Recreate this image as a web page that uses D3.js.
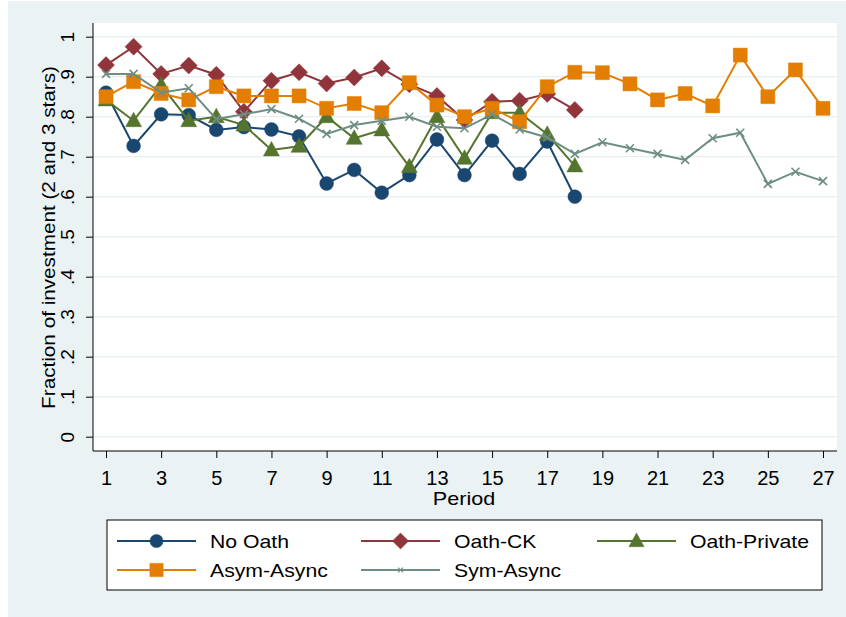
<!DOCTYPE html>
<html>
<head>
<meta charset="utf-8">
<script src="https://cdn.jsdelivr.net/npm/d3@7"></script>
<style>
  body { margin: 0; background: #fff; }
  svg { display: block; font-family: "Liberation Sans", Arial, sans-serif; }
</style>
</head>
<body>
<svg id="chart" width="846" height="617"></svg>
<script>
const periods = d3.range(1, 28);
const xTicks = d3.range(1, 28, 2);
const yTicks = d3.range(0, 11).map(d => d / 10);
const yTickLabels = ["0", ".1", ".2", ".3", ".4", ".5", ".6", ".7", ".8", ".9", "1"];

const seriesNames = ["No Oath", "Oath-CK", "Oath-Private", "Asym-Async", "Sym-Async"];

const noOath = [0.86, 0.727, 0.806, 0.804, 0.767, 0.774, 0.768, 0.751, 0.633, 0.667, 0.61, 0.654, 0.743, 0.654, 0.74, 0.657, 0.738, 0.6];
const oathCK = [0.929, 0.975, 0.907, 0.928, 0.905, 0.8125, 0.89, 0.911, 0.883, 0.898, 0.921, 0.881, 0.852, 0.792, 0.8375, 0.84, 0.857, 0.817];
const oathPrivate = [0.842, 0.79, 0.879, 0.79, 0.8, 0.779, 0.717, 0.726, 0.8, 0.746, 0.767, 0.675, 0.8, 0.696, 0.81, 0.81, 0.756, 0.677];
const asymAsync = [0.85, 0.8875, 0.858, 0.842, 0.875, 0.852, 0.852, 0.852, 0.821, 0.833, 0.81, 0.885, 0.829, 0.8, 0.821, 0.7875, 0.875, 0.911, 0.91, 0.882, 0.842, 0.858, 0.827, 0.954, 0.85, 0.917, 0.821];
const symAsync = [0.907, 0.907, 0.86, 0.871, 0.794, 0.806, 0.819, 0.795, 0.757, 0.779, 0.79, 0.8, 0.775, 0.771, 0.806, 0.768, 0.748, 0.707, 0.736, 0.721, 0.707, 0.692, 0.746, 0.76, 0.632, 0.6625, 0.639];

const seriesValues = [noOath, oathCK, oathPrivate, asymAsync, symAsync];
const colors = ["#1a476f", "#90353b", "#55752f", "#e37e00", "#6e8e84"];
const symbols = ["circle", "diamond", "triangle", "square", "cross"];

const svg = d3.select("#chart");

// graph region background
svg.append("rect").attr("x", 8).attr("y", 1).attr("width", 838).attr("height", 616).attr("fill", "#eaf2f3");

const plot = { left: 93, right: 837, top: 23, bottom: 451 };
svg.append("rect").attr("x", plot.left).attr("y", plot.top)
  .attr("width", plot.right - plot.left).attr("height", plot.bottom - plot.top).attr("fill", "#fff");

const x = d3.scaleLinear().domain([1, 27]).range([106, 823]);
const y = d3.scaleLinear().domain([0, 1]).range([436.7, 36.7]);

// gridlines
svg.append("g").selectAll("line").data(yTicks).join("line")
  .attr("x1", plot.left).attr("x2", plot.right)
  .attr("y1", d => y(d)).attr("y2", d => y(d))
  .attr("stroke", "#e6eef0").attr("stroke-width", 1.3);

// y axis
const yAxis = svg.append("g").attr("transform", `translate(${plot.left},0)`)
  .call(d3.axisLeft(y).tickValues(yTicks).tickSize(7).tickFormat((d, i) => yTickLabels[i]));
yAxis.select(".domain").attr("d", `M0,${plot.top}V${plot.bottom}`).attr("stroke", "#000").attr("stroke-width", 1);
yAxis.selectAll(".tick line").attr("stroke", "#000");
yAxis.selectAll(".tick text")
  .attr("x", 0).attr("y", 0).attr("dy", 0)
  .attr("transform", "translate(-19,0) rotate(-90)")
  .attr("text-anchor", "middle")
  .attr("font-size", 19).attr("fill", "#000");

// x axis
const xAxis = svg.append("g").attr("transform", `translate(0,${plot.bottom})`)
  .call(d3.axisBottom(x).tickValues(xTicks).tickSize(7).tickFormat(d3.format("d")));
xAxis.select(".domain").attr("d", `M${plot.left},0H${plot.right}`).attr("stroke", "#000").attr("stroke-width", 1);
xAxis.selectAll(".tick line").attr("stroke", "#000");
xAxis.selectAll(".tick text").attr("y", 34).attr("dy", 0).attr("font-size", 20).attr("fill", "#000");

svg.append("text").attr("transform", `translate(${(plot.left + plot.right) / 2 - 1},505) scale(1.16,1)`)
  .attr("text-anchor", "middle").attr("font-size", 18.6).text("Period");

svg.append("text").attr("transform", `translate(55,237.5) rotate(-90) scale(1.09,1)`)
  .attr("text-anchor", "middle").attr("font-size", 19).text("Fraction of investment (2 and 3 stars)");

function markerPath(type) {
  switch (type) {
    case "circle": return d3.symbol(d3.symbolCircle, 150)();
    case "diamond": return "M0,-8.5L8.5,0L0,8.5L-8.5,0Z";
    case "triangle": return "M0,-8.5L8,6L-8,6Z";
    case "square": return "M-7,-7H7V7H-7Z";
    case "cross": return "M-4,-4L4,4M-4,4L4,-4";
  }
}

const line = d3.line().x((d, i) => x(i + 1)).y(d => y(d));

seriesValues.forEach((vals, s) => {
  const g = svg.append("g");
  g.append("path").datum(vals).attr("d", line)
    .attr("fill", "none").attr("stroke", colors[s]).attr("stroke-width", 2);
  g.selectAll("path.m").data(vals).join("path").attr("class", "m")
    .attr("transform", (d, i) => `translate(${x(i + 1)},${y(d)})`)
    .attr("d", markerPath(symbols[s]))
    .attr("fill", symbols[s] === "cross" ? "none" : colors[s])
    .attr("stroke", colors[s])
    .attr("stroke-width", symbols[s] === "cross" ? 1.6 : 0.5);
});

// legend
const legend = svg.append("g");
legend.append("rect").attr("x", 107).attr("y", 520).attr("width", 715).attr("height", 70)
  .attr("fill", "#fff").attr("stroke", "#000").attr("stroke-width", 1);
const colX = [117, 361, 597];
const rowY = [541, 570];
seriesNames.forEach((name, s) => {
  const cx = colX[s % 3], cy = rowY[Math.floor(s / 3)];
  legend.append("line").attr("x1", cx).attr("x2", cx + 79).attr("y1", cy).attr("y2", cy)
    .attr("stroke", colors[s]).attr("stroke-width", 2);
  const sc = symbols[s] === "cross" ? 0.6 : 0.95;
  legend.append("path").attr("transform", `translate(${cx + 39.5},${cy}) scale(${sc})`)
    .attr("d", markerPath(symbols[s]))
    .attr("fill", symbols[s] === "cross" ? "none" : colors[s])
    .attr("stroke", colors[s]).attr("stroke-width", symbols[s] === "cross" ? 2 : 0.5);
  legend.append("text").attr("transform", `translate(${cx + 93},${cy + 7}) scale(1.14,1)`)
    .attr("font-size", 18.6).text(name);
});
</script>
</body>
</html>
